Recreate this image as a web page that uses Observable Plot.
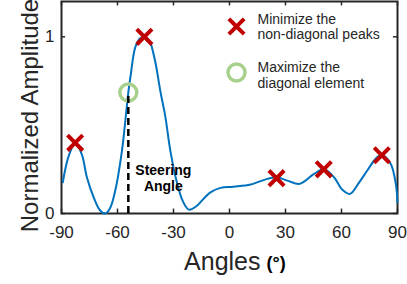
<!DOCTYPE html>
<html>
<head>
<meta charset="utf-8">
<script src="https://cdn.jsdelivr.net/npm/d3@7"></script>
<script src="https://cdn.jsdelivr.net/npm/@observablehq/plot@0.6"></script>
<style>
  html, body { margin: 0; padding: 0; background: #fff; }
</style>
</head>
<body>
<div id="chart"></div>
<script>
// Beam pattern curve (angle in degrees, normalized amplitude)
const curveAngles = [-89.3, -86, -82.5, -79, -76.4, -72.8, -69.5, -66.6, -64, -61.2, -57.6, -55.8, -54.2, -53.1, -50.5, -48, -45.5, -43, -40, -37, -34.4, -31.7, -28, -25, -21.8, -17.3, -15.6, -10.2, -4.8, 2.1, 11.3, 20.2, 25.2, 31, 37.7, 45.3, 50.6, 56, 60.5, 64.6, 69.4, 73.9, 77.5, 79.5, 82, 86.4, 89.1, 90];
const curveValues = [0.177, 0.33, 0.40, 0.33, 0.205, 0.092, 0.02, 0.0, 0.03, 0.13, 0.356, 0.525, 0.685, 0.77, 0.94, 0.99, 1.0, 0.98, 0.87, 0.69, 0.55, 0.356, 0.168, 0.07, 0.022, 0.045, 0.064, 0.12, 0.145, 0.152, 0.164, 0.196, 0.205, 0.186, 0.168, 0.224, 0.25, 0.205, 0.134, 0.111, 0.175, 0.245, 0.30, 0.322, 0.33, 0.28, 0.168, 0.064];

// Non-diagonal peaks to minimize (red crosses)
const peakAngles = [-82.7, -45.6, 25.2, 50.5, 81.6];
const peakValues = [0.40, 1.0, 0.2, 0.25, 0.33];

// Diagonal element to maximize (green circle) at the steering angle
const steerAngles = [-54.2];
const steerValues = [0.685];

// Ticks and labels
const xTicks = [-90, -60, -30, 0, 30, 60, 90];
const yTicks = [0, 1];
const xLabel = "Angles";
const xUnit = "(°)";
const yLabel = "Normalized Amplitude";
const steerLabel = "Steering\nAngle";
const legendCross = "Minimize the\nnon-diagonal peaks";
const legendCircle = "Maximize the\ndiagonal element";

const curve = curveAngles.map((a, i) => ({a, v: curveValues[i]}));
const peaks = peakAngles.map((a, i) => ({a, v: peakValues[i]}));
const steer = steerAngles.map((a, i) => ({a, v: steerValues[i]}));

const ink = "#262626";
const red = "#C00000";
const green = "#A9D18E";
const blue = "#0072BD";

const chart = Plot.plot({
  width: 407,
  height: 284,
  marginLeft: 61,
  marginRight: 10,
  marginTop: 1,
  marginBottom: 71,
  style: {fontFamily: "Arial, 'Liberation Sans', sans-serif", color: ink, background: "#fff", overflow: "visible"},
  x: {domain: [-90, 90]},
  y: {domain: [0, 1.2]},
  marks: [
    // inward ticks (bottom, top, left, right)
    Plot.ruleX(xTicks, {x: d => d, y1: 0, y2: 0.025, stroke: ink, strokeWidth: 1.5}),
    Plot.ruleX(xTicks, {x: d => d, y1: 1.175, y2: 1.2, stroke: ink, strokeWidth: 1.5}),
    Plot.ruleY(yTicks, {y: d => d, x1: -90, x2: -87.8, stroke: ink, strokeWidth: 1.5}),
    Plot.ruleY(yTicks, {y: d => d, x1: 87.8, x2: 90, stroke: ink, strokeWidth: 1.5}),
    Plot.axisX({ticks: xTicks, tickSize: 0, tickPadding: 12, fontSize: 17, label: null, tickFormat: d => String(d)}),
    Plot.axisY({ticks: yTicks, tickSize: 0, tickPadding: 7, fontSize: 17, label: null, tickFormat: d => String(d)}),
    Plot.frame({stroke: ink, strokeWidth: 2}),
    // beam pattern
    Plot.line(curve, {x: "a", y: "v", stroke: blue, strokeWidth: 2, curve: "catmull-rom"}),
    // peaks
    Plot.dot(peaks, {x: "a", y: "v", symbol: "times", r: 7, stroke: red, strokeWidth: 4}),
    // diagonal element
    Plot.dot(steer, {x: "a", y: "v", r: 8.5, stroke: green, strokeWidth: 3.5, fill: "none"}),
    Plot.ruleX(steer, {x: "a", y1: 0, y2: "v", stroke: "#000", strokeWidth: 2.5, strokeDasharray: "7,4"}),
    Plot.text(steer, {x: "a", y: 0, text: () => steerLabel, dx: 35, dy: -50, lineAnchor: "top", lineHeight: 1.15, fontSize: 14, fontWeight: "bold", fill: "#000", textAnchor: "middle"}),
    // legend
    Plot.dot([0], {frameAnchor: "top-left", dx: 175, dy: 25, symbol: "times", r: 7, stroke: red, strokeWidth: 4}),
    Plot.dot([0], {frameAnchor: "top-left", dx: 175, dy: 71, r: 8.5, stroke: green, strokeWidth: 3.5, fill: "none"}),
    Plot.text([legendCross], {frameAnchor: "top-left", dx: 196, dy: 11, lineAnchor: "top", lineHeight: 1.12, textAnchor: "start", fontSize: 14, fill: ink}),
    Plot.text([legendCircle], {frameAnchor: "top-left", dx: 196, dy: 59.5, lineAnchor: "top", lineHeight: 1.12, textAnchor: "start", fontSize: 14, fill: ink}),
    // axis titles
    Plot.text([yLabel], {frameAnchor: "left", rotate: -90, dx: -24, dy: 8, lineAnchor: "bottom", textAnchor: "middle", fontSize: 24, fill: ink}),
    Plot.text([xLabel], {frameAnchor: "bottom", dx: 31, dy: 56, lineAnchor: "bottom", textAnchor: "end", fontSize: 25, fill: ink}),
    Plot.text([xUnit], {frameAnchor: "bottom", dx: 37, dy: 55, lineAnchor: "bottom", textAnchor: "start", fontSize: 18, fontWeight: "bold", fill: "#000"})
  ]
});
document.getElementById("chart").appendChild(chart);
</script>
</body>
</html>
